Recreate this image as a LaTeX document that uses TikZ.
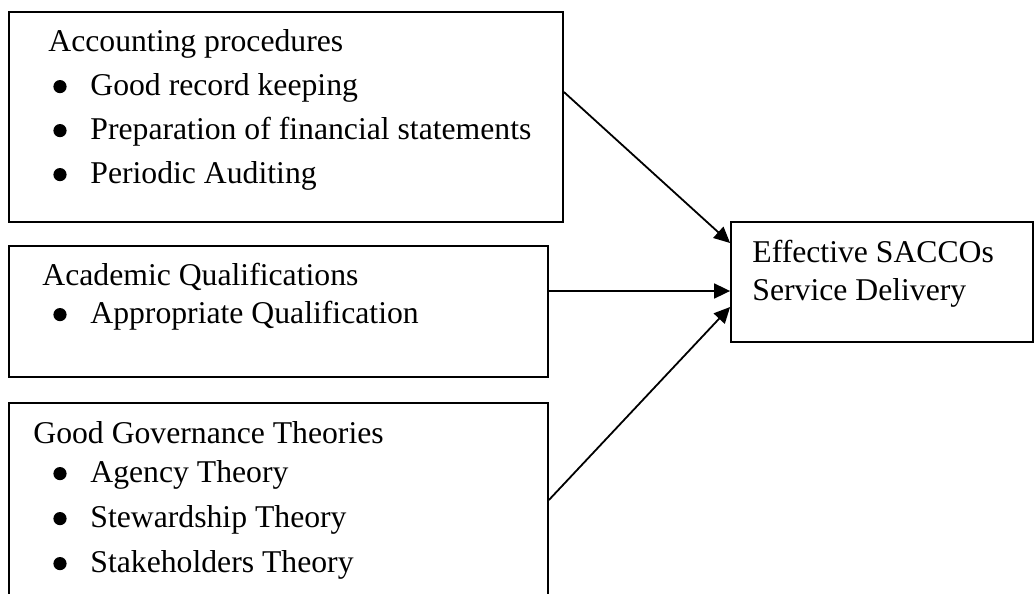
\documentclass[tikz,border=0pt]{standalone}
\usepackage{fontspec}
\setmainfont{Liberation Serif}
\usetikzlibrary{arrows.meta}
\tikzset{
  box/.style={draw, line width=0.9pt, rectangle, inner sep=0pt},
  txt/.style={anchor=base west, inner sep=0pt, font=\fontsize{15.85pt}{19pt}\selectfont},
  link/.style={-{Triangle[length=8pt,width=7.5pt]}, line width=0.9pt}
}
\begin{document}
\begin{tikzpicture}[x=0.5pt,y=-0.5pt]
\useasboundingbox (0,0) rectangle (1035,594);
\clip (0,0) rectangle (1035,594);
% boxes
\node[box, minimum width=277pt, minimum height=105pt] (acc) at (286,117) {};
\node[box, minimum width=269.5pt, minimum height=65.5pt] (acad) at (278.5,311.5) {};
\node[box, minimum width=269.5pt, minimum height=108.5pt] (gov) at (278.5,511.5) {};
\node[box, minimum width=151pt, minimum height=60pt] (eff) at (882,282) {};
% accounting procedures
\node[txt] (acchead) at (48,52) {Accounting procedures};
\node[txt] (acc1) at (90,95) {Good record keeping};
\node[txt] (acc2) at (90,139) {Preparation of financial statements};
\node[txt] (acc3) at (90,183) {Periodic Auditing};
% academic qualifications
\node[txt] (acadhead) at (42,285) {Academic Qualifications};
\node[txt] (acad1) at (90,323) {Appropriate Qualification};
% governance
\node[txt] (govhead) at (33,443) {Good Governance Theories};
\node[txt] (gov1) at (90,482) {Agency Theory};
\node[txt] (gov2) at (90,527) {Stewardship Theory};
\node[txt] (gov3) at (90,572) {Stakeholders Theory};
% bullets
\foreach \n in {acc1,acc2,acc3,acad1,gov1,gov2,gov3}
  \fill ([shift={(-15pt,4.2pt)}]\n.base west) circle (3.3pt);
% outcome
\node[txt] (eff1) at (752,262) {Effective SACCOs};
\node[txt] (eff2) at (752,300) {Service Delivery};
% arrows
\draw[link] ([yshift=12.5pt]acc.east) -- ([yshift=19.5pt]eff.west);
\draw[link] ([yshift=10.25pt]acad.east) -- ([yshift=-4.5pt]eff.west);
\draw[link] ([yshift=5.75pt]gov.east) -- ([yshift=-12.5pt]eff.west);
\end{tikzpicture}
\end{document}
